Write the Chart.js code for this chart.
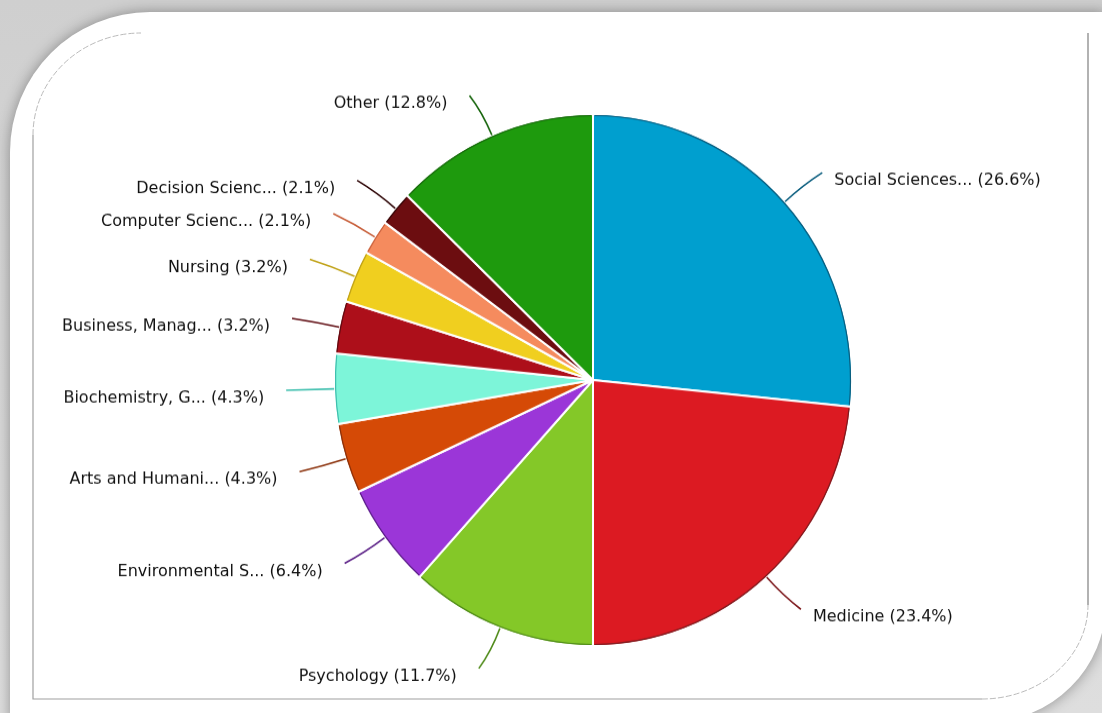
<!DOCTYPE html>
<html>
<head>
<meta charset="utf-8">
<script src="https://cdn.jsdelivr.net/npm/chart.js@4.4.1/dist/chart.umd.min.js"></script>
<style>
  html, body { margin: 0; padding: 0; }
  body {
    width: 1102px; height: 713px; overflow: hidden; position: relative;
    background: linear-gradient(#cfcfcf, #dedede);
  }
  #panel {
    position: absolute; left: 10px; top: 12px; width: 1096px; height: 710px;
    background: #fff;
    border-radius: 140px 0 120px 0;
    box-shadow: 0 0 14px rgba(0, 0, 0, 0.35);
  }
  #frame { position: absolute; left: 0; top: 0; }
  /* the source picture is stretched slightly in height */
  #chart { position: absolute; left: 0; top: 0; transform: scaleY(1.027); transform-origin: 0 380px; }
</style>
</head>
<body>
<div id="panel"></div>
<svg id="frame" width="1102" height="713">
  <path d="M33,135 A108,102 0 0 1 141,33" fill="none" stroke="#bbb" stroke-width="1" stroke-dasharray="6 2"/>
  <path d="M33,135 L33,699 L982,699" fill="none" stroke="#a0a0a0" stroke-width="1.2"/>
  <path d="M982,699 A106,94 0 0 0 1088,605" fill="none" stroke="#bbb" stroke-width="1" stroke-dasharray="6 2"/>
  <path d="M1088,605 L1088,33" fill="none" stroke="#999" stroke-width="1.5"/>
</svg>
<canvas id="chart" width="1102" height="713"></canvas>
<script>
  // Data
  const categories = [
    "Social Sciences...", "Medicine", "Psychology", "Environmental S...",
    "Arts and Humani...", "Biochemistry, G...", "Business, Manag...", "Nursing",
    "Computer Scienc...", "Decision Scienc...", "Other"
  ];
  const documentCounts = [25, 22, 11, 6, 4, 4, 3, 3, 2, 2, 12];

  // Colours
  const sliceColors = [
    "#009fcf", "#dc1a22", "#84c828", "#9b36d8", "#d54a06", "#7df5d9",
    "#ad0f1a", "#f0cf1f", "#f58b5e", "#6c0d10", "#1e9a0d"
  ];
  const leaderColors = [
    "#0a5d7e", "#7e1b1f", "#4e8a18", "#5a1f86", "#8a300a", "#3fbfae",
    "#5e0a10", "#c0a218", "#c8603c", "#2e0506", "#17650c"
  ];

  const total = documentCounts.reduce((a, b) => a + b, 0);

  /**
   * Draws the slice rims, curved leader lines and the outside labels
   */
  const outsideLabels = {
    id: "outsideLabels",
    afterDatasetsDraw(chart) {
      const ctx = chart.ctx;
      const meta = chart.getDatasetMeta(0);
      ctx.save();
      meta.data.forEach((arc, i) => {
        const { x, y, startAngle, endAngle, outerRadius } =
          arc.getProps(["x", "y", "startAngle", "endAngle", "outerRadius"], true);
        const mid = (startAngle + endAngle) / 2;
        const cos = Math.cos(mid);
        const sin = Math.sin(mid);

        // darker rim along the outer edge
        ctx.beginPath();
        ctx.arc(x, y, outerRadius - 1.5, startAngle + 0.006, endAngle - 0.006);
        ctx.strokeStyle = leaderColors[i];
        ctx.lineWidth = 1.2;
        ctx.stroke();

        // leader line
        const right = cos >= 0;
        const sx = x + cos * outerRadius;
        const sy = y + sin * outerRadius;
        const cx = x + cos * (outerRadius + 24);
        const cy = y + sin * (outerRadius + 24);
        const ex = x + cos * (outerRadius + 42) + (right ? 6 : -6);
        const ey = y + sin * (outerRadius + 42);
        ctx.beginPath();
        ctx.moveTo(sx, sy);
        ctx.quadraticCurveTo(cx, cy, ex, ey);
        ctx.strokeStyle = leaderColors[i];
        ctx.lineWidth = 1.6;
        ctx.stroke();

        // label
        const pct = (documentCounts[i] / total * 100).toFixed(1);
        ctx.font = '16px "DejaVu Sans"';
        ctx.fillStyle = "#111111";
        ctx.textBaseline = "middle";
        ctx.textAlign = right ? "left" : "right";
        ctx.fillText(`${categories[i]} (${pct}%)`, ex + (right ? 12 : -22), ey + 8);
      });
      ctx.restore();
    }
  };

  new Chart(document.getElementById("chart").getContext("2d"), {
    type: "pie",
    data: {
      labels: categories,
      datasets: [{
        data: documentCounts,
        backgroundColor: sliceColors,
        borderColor: "#ffffff",
        borderWidth: 2
      }]
    },
    options: {
      responsive: false,
      animation: false,
      radius: 259,
      layout: { padding: { left: 84, right: 0, top: 47, bottom: 0 } },
      plugins: {
        legend: { display: false },
        tooltip: { enabled: false }
      }
    },
    plugins: [outsideLabels]
  });
</script>
</body>
</html>
